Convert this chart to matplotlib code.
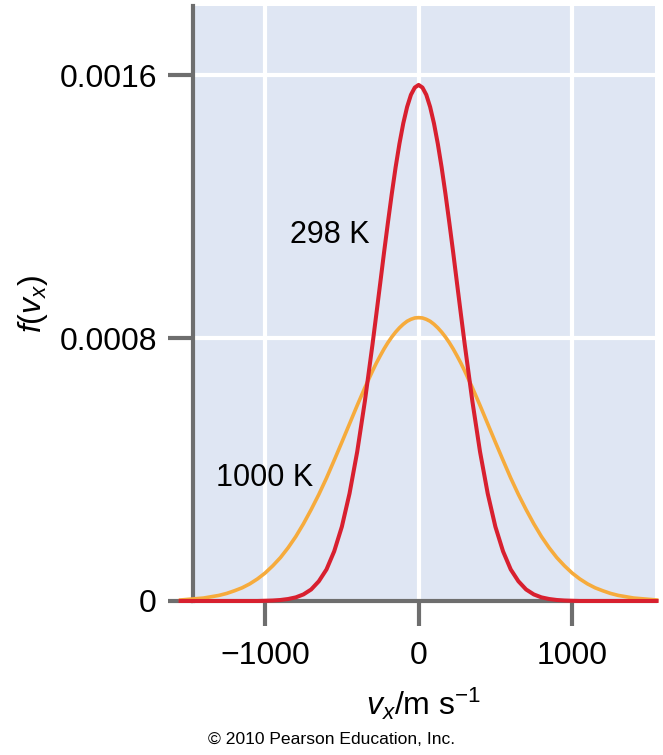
import matplotlib.pyplot as plt
import numpy as np

plt.rcParams['font.family'] = ['Liberation Sans', 'DejaVu Sans']
plt.rcParams['mathtext.fontset'] = 'custom'
plt.rcParams['mathtext.rm'] = 'Liberation Sans'
plt.rcParams['mathtext.it'] = 'Liberation Sans:italic'

# velocity samples (m/s), symmetric around 0
v_half = [0, 25, 50, 75, 100, 125, 150, 175, 200, 225, 250, 275, 300, 350,
          400, 450, 500, 550, 600, 650, 700, 750, 800, 850, 900, 950, 1000,
          1050, 1100, 1150, 1200, 1250, 1300, 1350, 1400, 1450, 1500, 1550]

# f(vx), in units of 1e-3
f298_half = [1.570, 1.562, 1.540, 1.503, 1.453, 1.391, 1.319, 1.238, 1.151,
             1.061, 0.967, 0.874, 0.782, 0.608, 0.454, 0.327, 0.226, 0.151,
             0.096, 0.060, 0.035, 0.020, 0.011, 0.006, 0.003, 0.0014, 0.0006,
             0.0, 0.0, 0.0, 0.0, 0.0, 0.0, 0.0, 0.0, 0.0, 0.0, 0.0]
f1000_half = [0.862, 0.861, 0.857, 0.851, 0.842, 0.831, 0.818, 0.803, 0.786,
              0.767, 0.746, 0.724, 0.700, 0.649, 0.595, 0.539, 0.483, 0.428,
              0.374, 0.324, 0.278, 0.235, 0.196, 0.162, 0.132, 0.107, 0.085,
              0.067, 0.052, 0.040, 0.031, 0.023, 0.017, 0.013, 0.009, 0.007,
              0.005, 0.003]

v = np.concatenate([-np.array(v_half[:0:-1]), v_half])
f298 = np.concatenate([f298_half[:0:-1], f298_half]) * 1e-3
f1000 = np.concatenate([f1000_half[:0:-1], f1000_half]) * 1e-3

GRAY = '#6e6e6e'
RED = '#d8202f'
ORANGE = '#f6ab3c'

fig = plt.figure(figsize=(6.63, 7.55), dpi=100)
ax = fig.add_axes([0.291, 0.204, 0.697, 0.788])
ax.set_facecolor('#dfe6f3')

ax.plot(v, f1000, color=ORANGE, lw=2.6, zorder=4, clip_on=False)
ax.plot(v, f298, color=RED, lw=2.9, zorder=5, clip_on=False,
        solid_joinstyle='round')

ax.set_xlim(-1470, 1540)
ax.set_ylim(0, 0.00181)
ax.set_xticks([-1000, 0, 1000])
ax.set_xticklabels(['\u22121000', '0', '1000'])
ax.set_yticks([0, 0.0008, 0.0016])
ax.set_yticklabels(['0', '0.0008', '0.0016'])
ax.grid(color='white', lw=3)
ax.set_axisbelow(True)

for s in ['top', 'right']:
    ax.spines[s].set_visible(False)
for s in ['left', 'bottom']:
    ax.spines[s].set_color(GRAY)
    ax.spines[s].set_linewidth(3)
ax.tick_params(axis='both', direction='out', length=18, width=3, color=GRAY,
               labelsize=23)
ax.tick_params(axis='y', pad=8)
ax.tick_params(axis='x', pad=11)

ax.text(-578, 0.001112, '298 K', fontsize=22, ha='center', va='center')
ax.text(-1000, 0.000375, '1000 K', fontsize=22, ha='center', va='center')

ax.set_xlabel(r'$v_x$/m s$^{-1}$', fontsize=23, labelpad=10)
ax.set_ylabel(r'$f(v_x)$', fontsize=23, labelpad=7)

fig.text(0.5, 0.02, '\u00a9 2010 Pearson Education, Inc.', fontsize=12.6,
         ha='center', va='center')

fig.savefig('out.png', dpi=100)
